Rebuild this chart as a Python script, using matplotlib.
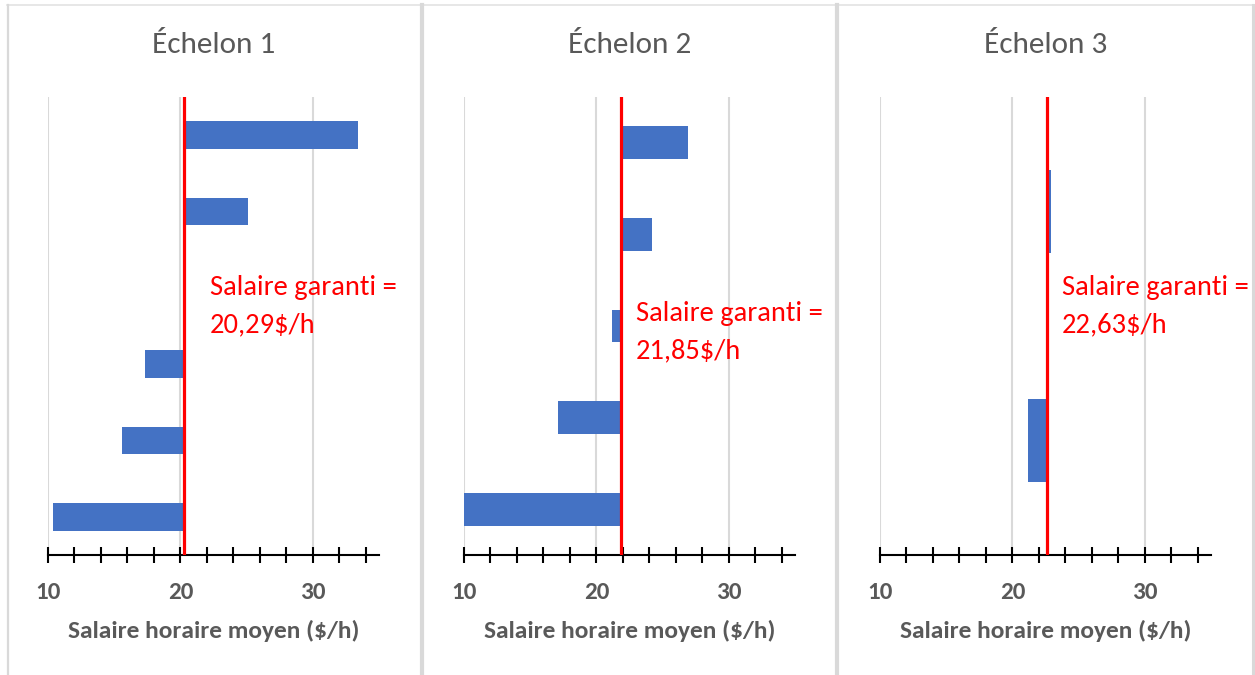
import numpy as np
import matplotlib
matplotlib.use("Agg")
import matplotlib.pyplot as plt
from matplotlib.lines import Line2D

plt.rcParams['font.family'] = ['Carlito', 'DejaVu Sans']

# ---- data ----
titles = ["Échelon 1", "Échelon 2", "Échelon 3"]
guarantees = [20.29, 21.85, 22.63]
guarantee_labels = ["20,29$/h", "21,85$/h", "22,63$/h"]
ech1_values = [33.42, 25.07, 20.20, 17.32, 15.56, 10.35]
ech2_values = [26.93, 24.20, 21.15, 17.10, 10.00]
ech3_values = [22.95, 21.15]
major_ticks = [10, 20, 30]
major_tick_labels = ["10", "20", "30"]
minor_ticks = list(range(10, 35, 2))
x_label = "Salaire horaire moyen ($/h)"

W, H = 1255, 675
fig = plt.figure(figsize=(W / 100, H / 100), dpi=100)

def fx(px):
    return px / W

def fy(py):
    return 1 - py / H

GRAY = '#595959'
BLUE = '#4472C4'

panel_lefts = [48, 464, 880]
panel_centers = [214, 630, 1046]
text_x = [22.2, 22.98, 23.74]
text_y = [0.544, 0.487, 0.544]
values_list = [ech1_values, ech2_values, ech3_values]

ax_top, ax_bot, ax_w = 97, 555, 331

for k in range(3):
    ax = fig.add_axes([fx(panel_lefts[k]), fy(ax_bot), fx(ax_w), (ax_bot - ax_top) / H])
    vals = np.array(values_list[k])
    g = guarantees[k]
    n = len(vals)
    y = np.arange(n)
    ax.barh(y, np.abs(vals - g), left=np.minimum(vals, g), height=0.36,
            color=BLUE, zorder=2)
    ax.axvline(g, color='#FF0000', lw=2.3, zorder=3)
    ax.set_xlim(10, 35)
    ax.set_ylim(n - 0.5, -0.5)
    ax.set_yticks([])
    ax.set_xticks(minor_ticks, minor=True)
    ax.set_xticks(major_ticks)
    ax.xaxis.grid(True, which='major', color='#d9d9d9', lw=1.5, zorder=0)
    ax.set_axisbelow(True)
    for s in ['top', 'left', 'right']:
        ax.spines[s].set_visible(False)
    ax.spines['bottom'].set_color('black')
    ax.spines['bottom'].set_linewidth(1.5)
    ax.tick_params(axis='x', which='both', direction='inout', length=11,
                   width=1.5, color='black', pad=14, labelsize=18, labelcolor=GRAY)
    ax.set_xticklabels(major_tick_labels, fontdict={'fontsize': 18, 'fontweight': 'bold',
                                                    'color': GRAY})
    ax.set_xlabel(x_label, fontsize=18.3, fontweight='bold', color=GRAY, labelpad=12)
    ax.text(text_x[k], text_y[k], "Salaire garanti =\n" + guarantee_labels[k],
            transform=ax.get_xaxis_transform(), color='#FF0000', fontsize=20.5,
            va='center', ha='left', linespacing=1.6, clip_on=False)
    fig.text(fx(panel_centers[k]), fy(45), titles[k], ha='center', va='center',
             fontsize=22.5, color=GRAY)

# chart borders
bc = '#d9d9d9'
fig.add_artist(Line2D([fx(7), fx(1254)], [fy(5), fy(5)], transform=fig.transFigure,
                      color='#e3e3e3', lw=1.2))
for xp, lw in [(8, 1.6), (422, 3.0), (837, 3.0), (1253, 2.2)]:
    fig.add_artist(Line2D([fx(xp), fx(xp)], [fy(5), fy(675)], transform=fig.transFigure,
                          color=bc, lw=lw))

fig.savefig("out.png", dpi=100)
